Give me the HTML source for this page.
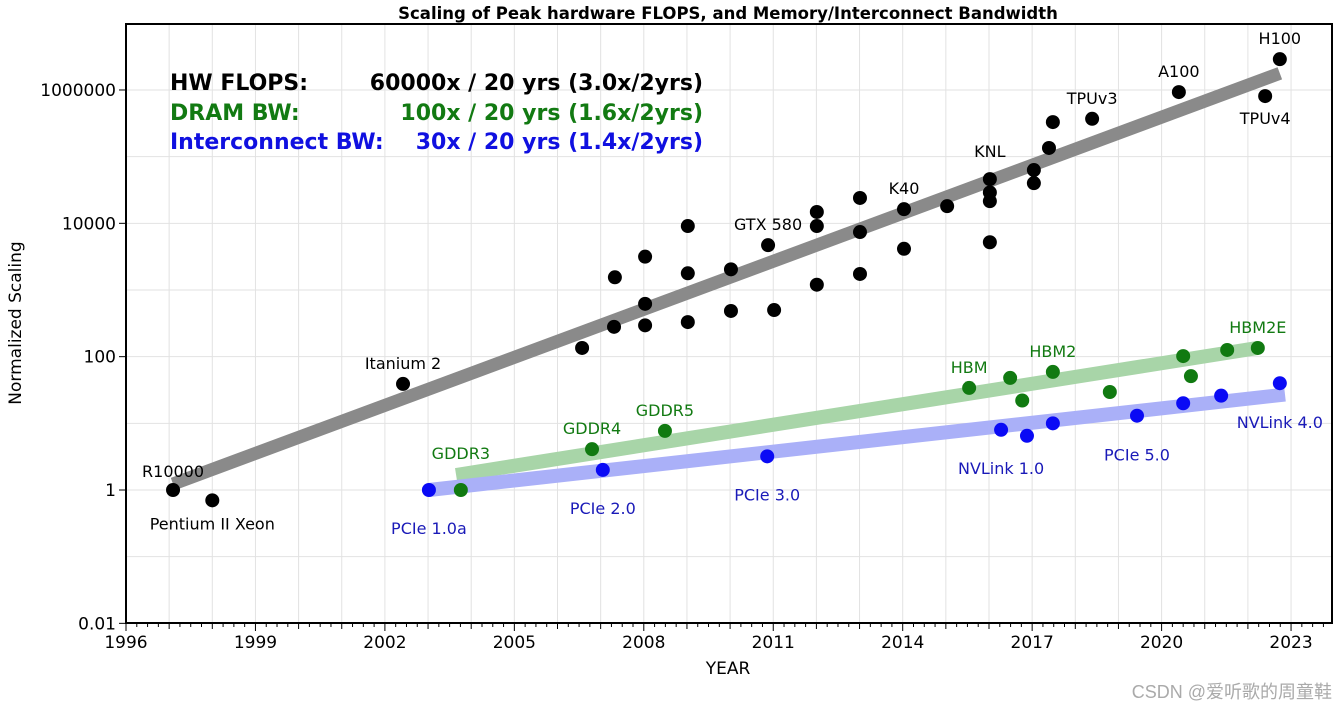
<!DOCTYPE html>
<html><head><meta charset="utf-8"><style>
html,body{margin:0;padding:0;background:#fff;}
svg{display:block;font-family:"DejaVu Sans","Liberation Sans",sans-serif;}
</style></head><body>
<svg id="chart" width="1337" height="713" viewBox="0 0 1337 713">
<text x="728" y="19" text-anchor="middle" font-size="16.5" font-weight="bold">Scaling of Peak hardware FLOPS, and Memory/Interconnect Bandwidth</text>
<g id="grid"></g>
<g id="trends"></g>
<g id="points"></g>
<g id="labels"></g>
<g id="axes"></g>
<g font-size="22" font-weight="bold">
<text x="170" y="90" fill="#000">HW FLOPS:</text>
<text x="703" y="90" fill="#000" text-anchor="end">60000x / 20 yrs (3.0x/2yrs)</text>
<text x="170" y="120" fill="#127a12">DRAM BW:</text>
<text x="703" y="120" fill="#127a12" text-anchor="end">100x / 20 yrs (1.6x/2yrs)</text>
<text x="170" y="149" fill="#1010e0">Interconnect BW:</text>
<text x="703" y="149" fill="#1010e0" text-anchor="end">30x / 20 yrs (1.4x/2yrs)</text>
</g>
<text x="728" y="674" text-anchor="middle" font-size="17">YEAR</text>
<text transform="translate(21,323) rotate(-90)" text-anchor="middle" font-size="17">Normalized Scaling</text>
<text x="1332" y="698" text-anchor="end" font-size="18" fill="#aaa" font-family="'Liberation Sans','Noto Sans CJK SC',sans-serif">CSDN @爱听歌的周童鞋</text>
</svg>
<script>
const xTicks = [1996,1999,2002,2005,2008,2011,2014,2017,2020,2023];
const yTicks = [0.01,1,100,10000,1000000];
const yTickLabels = ["0.01","1","100","10000","1000000"];
const flopsYears = [1997.09,1998.0,2002.42,2006.57,2007.33,2007.31,2008.03,2008.03,2008.03,2009.02,2009.02,2009.02,2010.02,2010.02,2011.02,2010.88,2012.01,2012.01,2012.01,2013.01,2013.01,2013.01,2014.03,2014.03,2015.03,2016.02,2016.02,2016.02,2016.02,2017.04,2017.04,2017.39,2017.48,2018.39,2020.4,2022.74,2022.4];
const flopsValues = [1,0.7,39,135,1550,280,3160,620,295,9100,1780,330,2040,485,500,4700,14800,9100,1200,24000,7400,1740,16300,4150,18100,46000,29000,21500,5200,63000,40000,135000,330000,370000,930000,2900000,810000];
const dramYears = [2003.76,2006.8,2008.49,2015.54,2016.49,2016.77,2017.48,2018.8,2020.5,2020.68,2021.52,2022.23];
const dramValues = [1,4.1,7.7,34,48,22,59,29.5,102,51,126,135];
const icYears = [2003.02,2007.05,2010.86,2016.28,2016.88,2017.48,2019.43,2020.5,2021.38,2022.74];
const icValues = [1,2,3.2,8,6.5,10,13,20,26,40];
const flopsTrend = [[1997.09,1.23],[2022.74,1780000]];
const dramTrend = [[2003.65,1.68],[2022.23,135]];
const icTrend = [[2003.02,1],[2022.86,27]];
const flopsLabels = [["R10000",0,-13],["Pentium II Xeon",1,29],["Itanium 2",2,-15],["GTX 580",15,-15],["K40",22,-15],["KNL",25,-22],["TPUv3",33,-15],["A100",34,-15],["H100",35,-15],["TPUv4",36,28]];
const dramLabels = [["GDDR3",0,-31],["GDDR4",1,-15],["GDDR5",2,-15],["HBM",3,-15],["HBM2",6,-15],["HBM2E",11,-15]];
const icLabels = [["PCIe 1.0a",0,44],["PCIe 2.0",1,44],["PCIe 3.0",2,44],["NVLink 1.0",3,44],["PCIe 5.0",6,45],["NVLink 4.0",9,45]];

const NS="http://www.w3.org/2000/svg";
const L=126,R=1332,T=24,B=623;
const x0=1996,pxYear=43.15;
function xs(y){return L+(y-x0)*pxYear;}
function ys(v){return 490-Math.log10(v)*66.67;}
function mk(tag,attrs,parent){const e=document.createElementNS(NS,tag);for(const k in attrs)e.setAttribute(k,attrs[k]);parent.appendChild(e);return e;}
const grid=document.getElementById('grid'),axes=document.getElementById('axes');
for(let yr=1996;yr<=2023;yr++){
  const g=mk('line',{x1:xs(yr),x2:xs(yr),y1:T,y2:B,stroke:'#e2e2e2','stroke-width':1},grid);
  
  
}
for(let p=-2;p<=7;p++){
  const yy=ys(Math.pow(10,p)); if(yy<T)continue;
  const g=mk('line',{x1:L,x2:R,y1:yy,y2:yy,stroke:'#e2e2e2','stroke-width':1},grid);
  
  
}
const fr=mk('rect',{x:L,y:T,width:R-L,height:B-T,fill:'none',stroke:'#000','stroke-width':2},axes);


for(let q=1996;q<=2023.8;q+=0.25){
  const major=Math.abs(q-Math.round(q))<1e-6 && (Math.round(q)-1996)%3===0;
  const yearT=Math.abs(q-Math.round(q))<1e-6;
  mk('line',{x1:xs(q),x2:xs(q),y1:B,y2:B+(major?8:yearT?6:4),stroke:'#000','stroke-width':1},axes);
}
xTicks.forEach(t=>{
  const e=mk('text',{x:xs(t),y:B+25,'text-anchor':'middle','font-size':17},axes);e.textContent=t;
  
  
});
yTicks.forEach((t,i)=>{
  mk('line',{x1:L-7,x2:L,y1:ys(t),y2:ys(t),stroke:'#000','stroke-width':1},axes);
  const e=mk('text',{x:L-10,y:ys(t)+6,'text-anchor':'end','font-size':17},axes);e.textContent=yTickLabels[i];
  
  
});
const trends=document.getElementById('trends');
[[flopsTrend,'#8a8a8a',13,1,'flops-trend'],[dramTrend,'#a8d5a8',14,1,'dram-trend'],[icTrend,'#aab0f8',14,1,'interconnect-trend']].forEach(([tr,c,w,o,n])=>{
  const e=mk('line',{x1:xs(tr[0][0]),y1:ys(tr[0][1]),x2:xs(tr[1][0]),y2:ys(tr[1][1]),stroke:c,'stroke-width':w,opacity:o},trends);
  
  
});
const pts=document.getElementById('points');
function drawSeries(yrs,vals,col,name){
  yrs.forEach((yr,i)=>{
    const c=mk('circle',{cx:xs(yr),cy:ys(vals[i]),r:7,fill:col},pts);
    
    
  });
}
drawSeries(flopsYears,flopsValues,'#000','flops-point');
drawSeries(icYears,icValues,'#0a0af5','interconnect-point');
drawSeries(dramYears,dramValues,'#117a11','dram-point');
const lab=document.getElementById('labels');
function drawLabels(arr,yrs,vals,col){
  arr.forEach(([t,i,dy])=>{
    const e=mk('text',{x:xs(yrs[i]),y:ys(vals[i])+dy,'text-anchor':'middle','font-size':16,fill:col},lab);
    e.textContent=t;
    
    
  });
}
drawLabels(flopsLabels,flopsYears,flopsValues,'#000');
drawLabels(dramLabels,dramYears,dramValues,'#127a12');
drawLabels(icLabels,icYears,icValues,'#1a1ab8');
</script>
</body></html>
